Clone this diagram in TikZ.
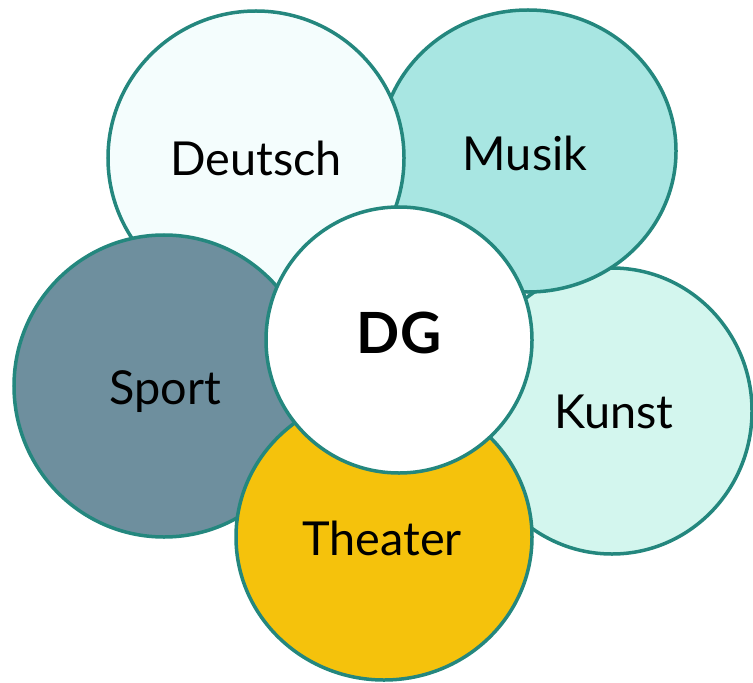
\documentclass[tikz,border=0pt]{standalone}
\usepackage{fontspec}
\setmainfont{Lato}
\usetikzlibrary{shapes.geometric}
\definecolor{rim}{RGB}{36,135,126}
\definecolor{cDeutsch}{RGB}{244,253,253}
\definecolor{cMusik}{RGB}{168,230,226}
\definecolor{cKunst}{RGB}{211,246,238}
\definecolor{cSport}{RGB}{110,143,158}
\definecolor{cTheater}{RGB}{245,194,12}
\tikzset{
  petal/.style={ellipse, draw=rim, line width=3.5bp, inner sep=0pt},
  lbl/.style={anchor=base, inner sep=0pt, font=\fontsize{47}{50}\selectfont},
  biglbl/.style={anchor=base, inner sep=0pt, font=\fontsize{57}{60}\selectfont\bfseries},
}
\begin{document}
\begin{tikzpicture}[x=1bp,y=-1bp]
\useasboundingbox (0,0) rectangle (753,683);
\node[petal, fill=cKunst, minimum width=280bp, minimum height=286bp] (kunst) at (612,411) {};
\node[petal, fill=cMusik, minimum width=296bp, minimum height=282bp] (musik) at (528,151) {};
\node[petal, fill=cDeutsch, minimum width=296bp, minimum height=294bp] (deutsch) at (256,158) {};
\node[petal, fill=cSport, minimum width=300bp, minimum height=302bp] (sport) at (164,386) {};
\node[petal, fill=cTheater, minimum width=296bp, minimum height=286bp] (theater) at (384,537) {};
\node[petal, fill=white, minimum width=266bp, minimum height=266bp] (dg) at (399,340) {};
\node[lbl] (tdeutsch) at (256,175) {Deutsch};
\node[lbl] (tmusik) at (525,170) {Musik};
\node[lbl] (tsport) at (165,404) {Sport};
\node[lbl] (tkunst) at (614,428) {Kunst};
\node[lbl] (ttheater) at (382,555) {Theater};
\node[biglbl] (tdg) at (399,353) {DG};
\end{tikzpicture}
\end{document}
